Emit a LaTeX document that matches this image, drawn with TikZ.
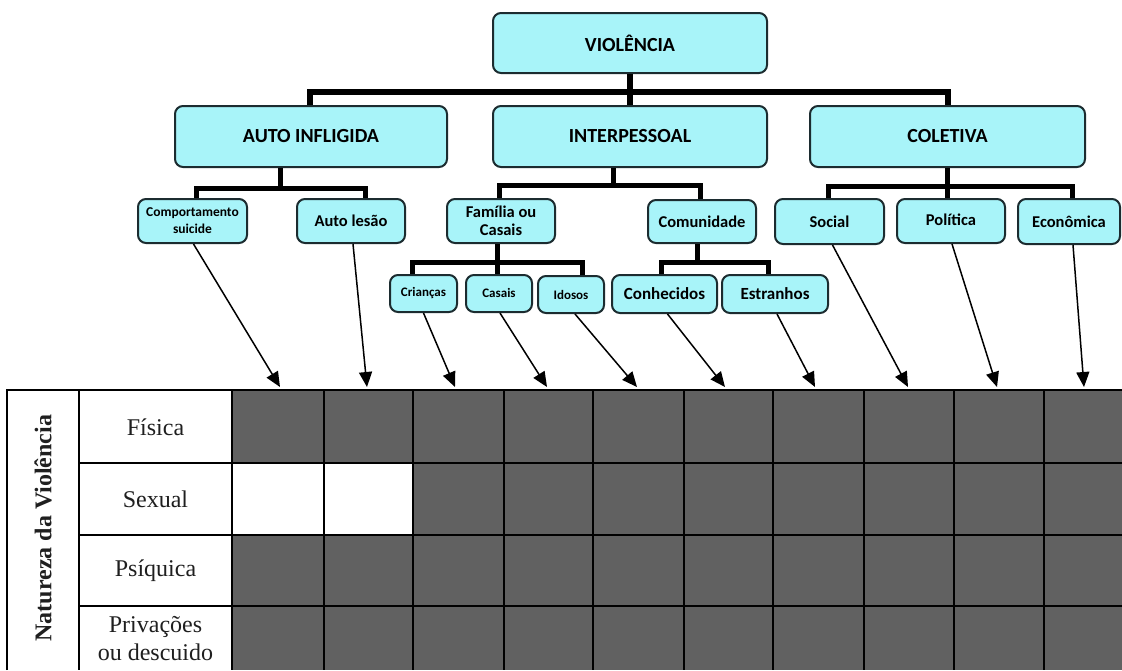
\documentclass[tikz,border=0pt]{standalone}
\usepackage{fontspec}
\setmainfont{Liberation Serif}
\newfontfamily\calib{Carlito}
\usetikzlibrary{arrows.meta}
\definecolor{boxfill}{RGB}{168,244,249}
\definecolor{boxline}{RGB}{28,44,48}
\definecolor{cellgray}{RGB}{97,97,97}
\begin{document}
\begin{tikzpicture}[x=1pt,y=-1pt,
 box/.style={draw=boxline, fill=boxfill, line width=2pt, rounded corners=8pt, inner sep=0pt, align=center},
 bigtxt/.style={font=\calib\bfseries\fontsize{20}{22}\selectfont},
 midtxt/.style={font=\calib\bfseries\fontsize{16.5}{18}\selectfont},
 smalltxt/.style={font=\calib\bfseries\fontsize{13}{17}\selectfont},
 bar/.style={line width=5pt, black},
 arr/.style={line width=1.5pt, black, -{Triangle[width=13pt,length=15pt]}},
 gridline/.style={line width=1.2pt, black},
 lab/.style={font=\fontsize{24}{28}\selectfont, text=black!88, align=center}]
\useasboundingbox (0,0) rectangle (1122,670);
\clip (0,0) rectangle (1122,670);
\fill[white] (0,0) rectangle (1122,670);

% ---- tree nodes ----
\node[box, bigtxt, minimum width=274pt, minimum height=60pt] (viol) at (630,43) {VIOLÊNCIA};
\node[box, bigtxt, minimum width=272pt, minimum height=61pt] (auto) at (311,136.5) {AUTO INFLIGIDA};
\node[box, bigtxt, minimum width=274pt, minimum height=61pt] (inter) at (630,136.5) {\raisebox{2pt}{INTERPESSOAL}};
\node[box, bigtxt, minimum width=275pt, minimum height=61pt] (colet) at (947.5,136.5) {\raisebox{-5pt}{COLETIVA}};

\node[box, font=\calib\bfseries\fontsize{13.5}{17}\selectfont, minimum width=109pt, minimum height=44pt] (comp) at (192.5,221) {Comportamento\\suicide};
\node[box, midtxt, minimum width=108pt, minimum height=44pt] (lesao) at (351,221) {Auto lesão};
\node[box, midtxt, minimum width=108pt, minimum height=44pt] (fam) at (501,221) {Família ou\\Casais};
\node[box, midtxt, minimum width=108pt, minimum height=43pt] (comu) at (702,221.5) {Comunidade};
\node[box, midtxt, minimum width=109pt, minimum height=45pt] (social) at (829.5,221.5) {Social};
\node[box, midtxt, minimum width=108pt, minimum height=44pt] (pol) at (951,221) {\raisebox{2pt}{Política}};
\node[box, midtxt, minimum width=102pt, minimum height=45pt] (econ) at (1069,221.5) {Econômica};

\node[box, smalltxt, minimum width=67pt, minimum height=37pt] (crian) at (423.5,293.5) {Crianças};
\node[box, smalltxt, minimum width=66pt, minimum height=37pt] (casais) at (499,293.5) {\raisebox{2pt}{Casais}};
\node[box, smalltxt, minimum width=66pt, minimum height=37pt] (idosos) at (571,294.5) {Idosos};
\node[box, font=\calib\bfseries\fontsize{17}{18}\selectfont, minimum width=105pt, minimum height=38pt] (conh) at (664.5,294) {Conhecidos};
\node[box, font=\calib\bfseries\fontsize{17}{18}\selectfont, minimum width=106pt, minimum height=38pt] (estr) at (775,294) {\raisebox{1pt}{Estranhos}};

% ---- tree connectors ----
\coordinate (L0) at (310,92);
\coordinate (R0) at (948,92);
\draw[bar, line width=5.5pt] (viol.south) -- (inter.north);
\draw[bar, line width=5.5pt] (auto.north -| L0) |- (R0) -- (colet.north -| R0);

\coordinate (a0) at (280,188);
\coordinate (aL) at (196,188);
\coordinate (aR) at (365,188);
\draw[bar] (auto.south -| a0) -- (a0);
\draw[bar] (comp.north -| aL) |- (aR) -- (lesao.north -| aR);

\coordinate (i0) at (613,185);
\coordinate (iL) at (499,185);
\coordinate (iR) at (700,185);
\draw[bar] (inter.south -| i0) -- (i0);
\draw[bar] (fam.north -| iL) |- (iR) -- (comu.north -| iR);

\coordinate (c0) at (947,186);
\coordinate (cL) at (828,186);
\coordinate (cR) at (1072,186);
\draw[bar] (colet.south -| c0) -- (pol.north -| c0);
\draw[bar] (social.north -| cL) |- (cR) -- (econ.north -| cR);

\coordinate (f0) at (497,262);
\coordinate (fL) at (412,262);
\coordinate (fR) at (582,262);
\draw[bar] (fam.south -| f0) -- (casais.north -| f0);
\draw[bar] (crian.north -| fL) |- (fR) -- (idosos.north -| fR);

\coordinate (m0) at (697,262);
\coordinate (mL) at (661,262);
\coordinate (mR) at (768,262);
\draw[bar] (comu.south -| m0) -- (m0);
\draw[bar] (conh.north -| mL) |- (mR) -- (estr.north -| mR);

% ---- table ----
\fill[cellgray] (232,390) rectangle (1122,670);
\fill[white] (232,463) rectangle (413,535);
\draw[gridline] (7,670) -- (7,390) -- (1122,390);
\foreach \x in {79,232,324,413,504,593,684,773,864,954,1044}
  \draw[gridline] (\x,390) -- (\x,670);
\foreach \y in {463,535,606}
  \draw[gridline] (79,\y) -- (1122,\y);

\node[lab, rotate=90, font=\bfseries\fontsize{24}{28}\selectfont] (nat) at (43,528) {Natureza da Violência};
\node[lab] (fis) at (155.5,427) {Física};
\node[lab] (sex) at (155.5,499) {Sexual};
\node[lab] (psi) at (155.5,570.5) {Psíquica};
\node[lab] (pri) at (155.5,639) {Privações\\ou descuido};

% ---- arrows ----
\coordinate (t1) at (280,387);
\coordinate (t2) at (367,387);
\coordinate (t3) at (455,387);
\coordinate (t4) at (547,387);
\coordinate (t5) at (637,387);
\coordinate (t6) at (725,387);
\coordinate (t7) at (815,387);
\coordinate (t8) at (908,387);
\coordinate (t9) at (997,387);
\coordinate (t10) at (1084,387);
\draw[arr] ([xshift=1pt]comp.south) -- (t1);
\draw[arr] ([xshift=2pt]lesao.south) -- (t2);
\draw[arr] (crian.south) -- (t3);
\draw[arr] ([xshift=1pt]casais.south) -- (t4);
\draw[arr] ([xshift=4pt]idosos.south) -- (t5);
\draw[arr] ([xshift=3pt]conh.south) -- (t6);
\draw[arr] ([xshift=2pt]estr.south) -- (t7);
\draw[arr] ([xshift=3pt]social.south) -- (t8);
\draw[arr] ([xshift=1pt]pol.south) -- (t9);
\draw[arr] ([xshift=4pt]econ.south) -- (t10);
\end{tikzpicture}
\end{document}
